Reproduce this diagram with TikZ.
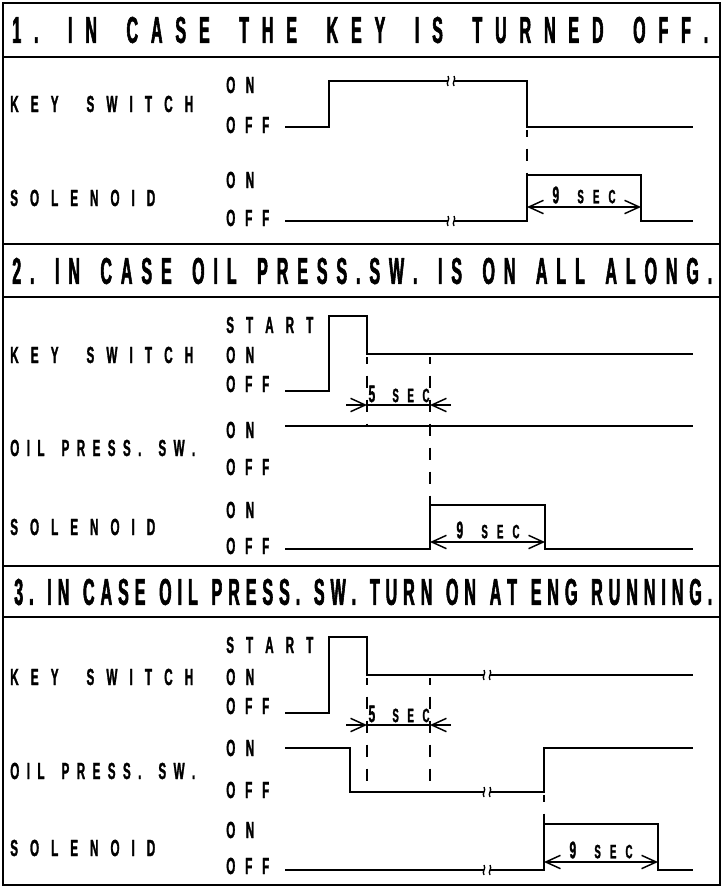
\documentclass[tikz,border=0pt]{standalone}
\usepackage{fontspec}
\usepackage{tikz}
\usetikzlibrary{arrows.meta}
\newfontfamily\lblfont[FakeStretch=0.5,FakeBold=1.2]{Liberation Sans}
\newfontfamily\ttlfont[FakeStretch=0.43,FakeBold=1.5]{Liberation Sans}
\newdimen\px \px=0.75pt
\ExplSyntaxOn
\NewDocumentCommand \spaced { m m }
  {
    \makebox [ #1 \px ] [s]
      {
        \str_map_inline:nn { #2 }
          {
            \str_if_eq:nnTF { ##1 } { ~ }
              { \hskip 0pt plus 1.3fil \relax }
              { ##1 \hskip 0pt plus 1fil \relax }
          }
        \unskip
      }
  }
\ExplSyntaxOff
\newcommand\secbox[2]{\makebox[#1\px][s]{{\fontsize{18}{18}\selectfont #2}\hfil\hfil S\hfil E\hfil C}}
\tikzstyle{sig} = [line width=1.4pt]
\tikzstyle{guide} = [line width=1.2pt, dash pattern=on 9pt off 9pt, dash phase=4pt]
\tikzstyle{dim} = [line width=1.1pt, -{Straight Barb[length=11pt,width=10pt]}]
\tikzstyle{span} = [line width=1.1pt, {Straight Barb[length=11pt,width=10pt]}-{Straight Barb[length=11pt,width=10pt]}]
\tikzstyle{lbl} = [anchor=west, inner sep=0pt, font=\lblfont\bfseries\fontsize{17.5}{18}\selectfont]
\tikzstyle{sec} = [inner sep=0pt, font=\lblfont\bfseries\fontsize{14.5}{15}\selectfont]
\tikzstyle{ttl} = [anchor=west, inner sep=0pt, font=\ttlfont\bfseries\fontsize{28}{30}\selectfont]
\tikzset{brk/.pic={
  \fill[white] (-5,-6) rectangle (5,6);
  \draw[line width=1pt] (-6,0) -- (-3,0) (3,0) -- (6,0);
  \draw[line width=1pt] (-3,-5) .. controls (-0.5,-1) and (-5.5,1) .. (-3,5);
  \draw[line width=1pt] (3,-5) .. controls (5.5,-1) and (0.5,1) .. (3,5);
}}

\begin{document}
\begin{tikzpicture}[x=0.75pt, y=-0.75pt]
\useasboundingbox (0,0) rectangle (724,888);

% Frame and title bands
\draw[line width=1.5pt] (3,3) rectangle (720,885);
\foreach \yy in {57,244,297,566,617}
  \draw[line width=1.5pt] (3,\yy) -- (720,\yy);

\node[ttl] (t1) at (12,30) {\spaced{696}{1. IN CASE THE KEY IS TURNED OFF.}};
\node[ttl] (t2) at (12,271) {\spaced{700}{2. IN CASE OIL PRESS.SW. IS ON ALL ALONG.}};
\node[ttl] (t3) at (14,592) {\spaced{698}{3. IN CASE OIL PRESS. SW. TURN ON AT ENG RUNNING.}};

% Case 1
\node[lbl] (ks1) at (10,104) {\spaced{183}{KEY SWITCH}};
\node[lbl] (sol1) at (10,198) {\spaced{145}{SOLENOID}};
\node[lbl] (ks1on) at (226,85) {\spaced{28}{ON}};
\node[lbl] (ks1off) at (226,125) {\spaced{43}{OFF}};
\node[lbl] (sol1on) at (226,180) {\spaced{28}{ON}};
\node[lbl] (sol1off) at (226,218) {\spaced{43}{OFF}};

\draw[sig] (285,127) -- (329,127) -- (329,81) -- (527,81) -- (527,127) -- (693,127);
\draw[sig] (285,221) -- (527,221) -- (527,175) -- (641,175) -- (641,221) -- (693,221);
\pic at (451,81) {brk};
\pic at (451,221) {brk};
\draw[guide] (527,130) -- (527,175);
\draw[span] (527,207) -- (641,207);
\node[sec] (s1) at (584,195) {\secbox{63}{9}};

% Case 2
\node[lbl] (ks2) at (10,355) {\spaced{183}{KEY SWITCH}};
\node[lbl] (oil2) at (10,448) {\spaced{185}{OIL PRESS. SW.}};
\node[lbl] (sol2) at (10,527) {\spaced{145}{SOLENOID}};
\node[lbl] (ks2st) at (226,325) {\spaced{87}{START}};
\node[lbl] (ks2on) at (226,355) {\spaced{28}{ON}};
\node[lbl] (ks2off) at (226,384) {\spaced{43}{OFF}};
\node[lbl] (oil2on) at (226,430) {\spaced{28}{ON}};
\node[lbl] (oil2off) at (226,467) {\spaced{43}{OFF}};
\node[lbl] (sol2on) at (226,510) {\spaced{28}{ON}};
\node[lbl] (sol2off) at (226,546) {\spaced{43}{OFF}};

\draw[sig] (285,391) -- (329,391) -- (329,316) -- (367,316) -- (367,354) -- (693,354);
\draw[sig] (285,426) -- (693,426);
\draw[sig] (285,549) -- (430,549) -- (430,505) -- (545,505) -- (545,549) -- (693,549);
\draw[guide] (367,357) -- (367,426);
\draw[guide] (430,357) -- (430,505);
\draw[dim] (346,405) -- (367,405);
\draw[dim] (451,405) -- (430,405);
\draw[line width=1.1pt] (367,405) -- (430,405);
\node[sec] (s2) at (399,394) {\secbox{61}{5}};
\draw[span] (430,542) -- (545,542);
\node[sec] (s3) at (488,530) {\secbox{63}{9}};

% Case 3
\node[lbl] (ks3) at (10,677) {\spaced{183}{KEY SWITCH}};
\node[lbl] (oil3) at (10,771) {\spaced{185}{OIL PRESS. SW.}};
\node[lbl] (sol3) at (10,848) {\spaced{145}{SOLENOID}};
\node[lbl] (ks3st) at (226,645) {\spaced{87}{START}};
\node[lbl] (ks3on) at (226,677) {\spaced{28}{ON}};
\node[lbl] (ks3off) at (226,706) {\spaced{43}{OFF}};
\node[lbl] (oil3on) at (226,748) {\spaced{28}{ON}};
\node[lbl] (oil3off) at (226,790) {\spaced{43}{OFF}};
\node[lbl] (sol3on) at (226,830) {\spaced{28}{ON}};
\node[lbl] (sol3off) at (226,866) {\spaced{43}{OFF}};

\draw[sig] (285,713) -- (329,713) -- (329,637) -- (367,637) -- (367,675) -- (693,675);
\draw[sig] (285,748) -- (350,748) -- (350,792) -- (544,792) -- (544,748) -- (693,748);
\draw[sig] (285,870) -- (544,870) -- (544,824) -- (658,824) -- (658,870) -- (693,870);
\pic at (487,675) {brk};
\pic at (487,792) {brk};
\pic at (487,870) {brk};
\draw[guide] (367,678) -- (367,792);
\draw[guide] (430,678) -- (430,792);
\draw[guide] (544,795) -- (544,824);
\draw[dim] (346,725) -- (367,725);
\draw[dim] (451,725) -- (430,725);
\draw[line width=1.1pt] (367,725) -- (430,725);
\node[sec] (s4) at (399,714) {\secbox{61}{5}};
\draw[span] (544,862) -- (658,862);
\node[sec] (s5) at (601,850) {\secbox{63}{9}};
\end{tikzpicture}
\end{document}
